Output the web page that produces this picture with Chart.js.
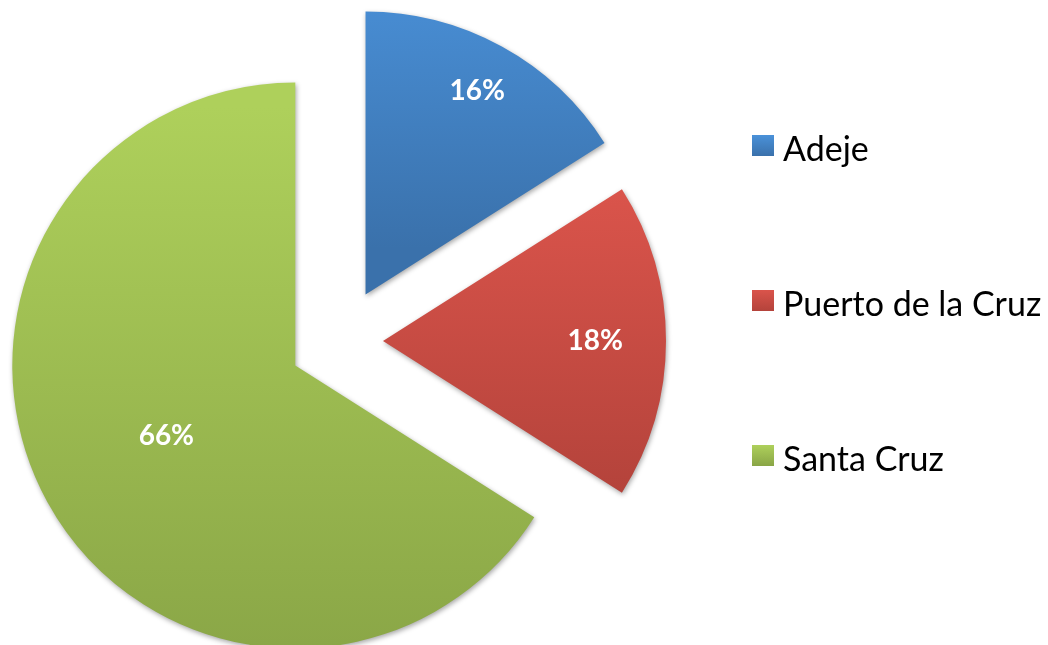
<!DOCTYPE html>
<html>
<head>
<meta charset="utf-8">
<title>Pie</title>
<script src="https://cdn.jsdelivr.net/npm/chart.js@4.4.0/dist/chart.umd.min.js"></script>
<style>
  html, body { margin: 0; padding: 0; background: #fff; }
  #wrap { position: relative; width: 1048px; height: 645px; }
  #legend { position: absolute; left: 752px; top: 125px; font-family: Lato, "Open Sans", sans-serif; font-size: 34px; color: #000; }
  .item { display: flex; align-items: center; height: 40px; margin-bottom: 115px; white-space: nowrap; }
  .swatch { width: 22px; height: 21px; flex: none; }
  .name { margin-left: 9px; position: relative; top: 2px; }
</style>
</head>
<body>
<div id="wrap">
  <canvas id="pieChart"></canvas>
  <div id="legend"></div>
</div>
<script>
// Share of each town
const towns = ['Adeje', 'Puerto de la Cruz', 'Santa Cruz'];
const shares = [16, 18, 66];

// Vertical gradient for each slice (top -> bottom)
const topColors = ['#4a91d9', '#da544b', '#aed05b'];
const bottomColors = ['#3a71ab', '#b4433b', '#89a546'];

// Pull-out distance of each slice in px, and where its label sits (fraction of radius)
const explode = [53, 43, 51];
const labelRadius = [0.82, 0.75, 0.52];
const pieRadius = 283;

Chart.defaults.font.family = 'Lato, "Open Sans", sans-serif';

// Chart.js moves an arc by offset / 4, grows its radius and trims its angle
// a little; pass 4x the pull-out and take the extra radius / trim back.
const sliceStyle = {
  id: 'sliceStyle',
  afterDatasetUpdate(chart) {
    chart.getDatasetMeta(0).data.forEach((arc) => {
      const c = arc.endAngle - arc.startAngle;
      const fix = 1 - Math.sin(Math.min(Math.PI, c || 0));
      const grow = (arc.options.offset / 4) * fix;
      const trim = grow / (2 * Math.PI * pieRadius);
      arc.outerRadius = pieRadius - grow;
      arc.startAngle -= trim;
      arc.endAngle += trim;
    });
  },
  beforeDatasetsDraw(chart) {
    const ctx = chart.ctx;
    chart.getDatasetMeta(0).data.forEach((arc, i) => {
      const { y, startAngle, endAngle } = arc;
      const mid = (startAngle + endAngle) / 2;
      const cy = y + Math.sin(mid) * arc.options.offset / 4;
      let top = cy, bottom = cy;
      for (let k = 0; k <= 64; k++) {
        const a = startAngle + (endAngle - startAngle) * k / 64;
        const py = cy + Math.sin(a) * pieRadius;
        top = Math.min(top, py);
        bottom = Math.max(bottom, py);
      }
      const g = ctx.createLinearGradient(0, top, 0, bottom);
      g.addColorStop(0, topColors[i]);
      g.addColorStop(1, bottomColors[i]);
      arc.options.backgroundColor = g;
    });
    // soft drop shadow under the slices
    ctx.save();
    ctx.shadowColor = 'rgba(0, 0, 0, 0.35)';
    ctx.shadowBlur = 5;
    ctx.shadowOffsetX = 1;
    ctx.shadowOffsetY = 2;
  },
  afterDatasetsDraw(chart) {
    const ctx = chart.ctx;
    ctx.restore();

    // percentage labels inside the slices
    ctx.save();
    ctx.fillStyle = '#ffffff';
    ctx.font = 'bold 28px Lato, "Open Sans", sans-serif';
    ctx.textAlign = 'center';
    ctx.textBaseline = 'middle';
    chart.getDatasetMeta(0).data.forEach((arc, i) => {
      const mid = (arc.startAngle + arc.endAngle) / 2;
      const r = arc.options.offset / 4 + pieRadius * labelRadius[i];
      ctx.fillText(shares[i] + '%', arc.x + Math.cos(mid) * r, arc.y + Math.sin(mid) * r);
    });
    ctx.restore();
  }
};

const ctx = document.getElementById('pieChart').getContext('2d');

const pieChart = new Chart(ctx, {
  type: 'pie',
  data: {
    labels: towns,
    datasets: [{
      data: shares,
      backgroundColor: topColors,
      borderWidth: 0,
      offset: explode.map(d => d * 4),
      hoverOffset: 0,
      radius: pieRadius,
      clip: false
    }]
  },
  options: {
    responsive: true,
    maintainAspectRatio: false,
    animation: false,
    layout: {
      padding: { top: 37, bottom: 0, left: 0, right: 368 }
    },
    plugins: {
      legend: { display: false },
      tooltip: { enabled: false }
    }
  },
  plugins: [sliceStyle]
});

// legend on the right
const legend = document.getElementById('legend');
towns.forEach((name, i) => {
  const item = document.createElement('div');
  item.className = 'item';
  const swatch = document.createElement('span');
  swatch.className = 'swatch';
  swatch.style.background = `linear-gradient(${topColors[i]}, ${bottomColors[i]})`;
  const label = document.createElement('span');
  label.className = 'name';
  label.textContent = name;
  item.append(swatch, label);
  legend.append(item);
});
</script>
</body>
</html>
